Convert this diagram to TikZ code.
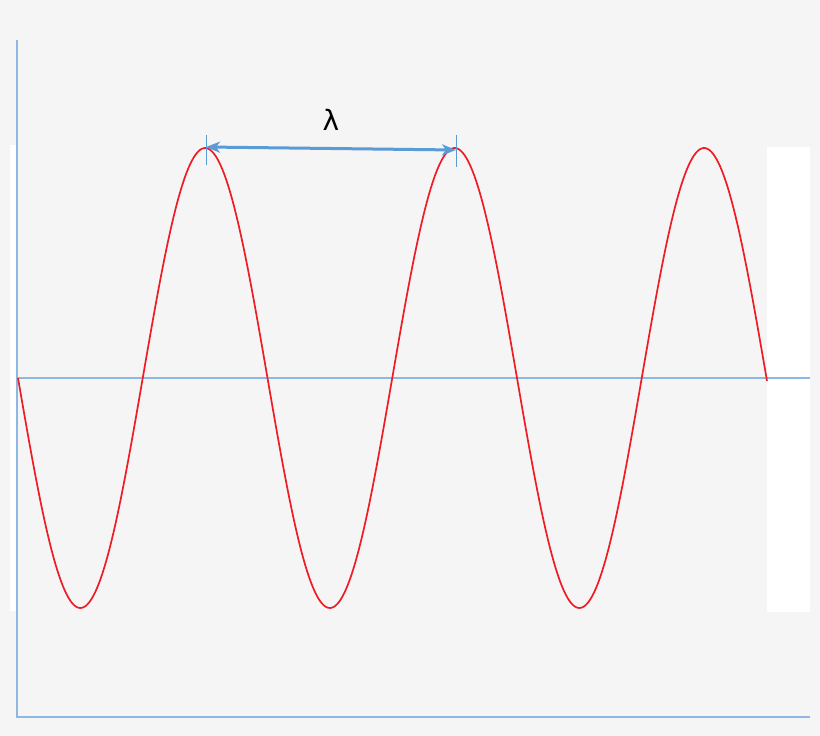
\documentclass[tikz,border=0pt]{standalone}
\usepackage{fontspec}
\newfontfamily\lamfont{DejaVu Sans}
\usetikzlibrary{arrows.meta}
\definecolor{axisblue}{HTML}{8DB8E2}
\definecolor{arrowblue}{HTML}{5B9BD5}
\definecolor{wavered}{HTML}{EE1C25}
\definecolor{bggray}{HTML}{F5F5F5}

\begin{document}
\begin{tikzpicture}[x=1pt,y=-1pt,
    axis/.style={draw=axisblue,line width=1.2pt},
    wave/.style={draw=wavered,line width=1.7pt},
    marker/.style={draw=arrowblue,line width=0.9pt},
    span/.style={draw=arrowblue,line width=3pt,
      {Stealth[length=14pt,width=11pt,inset=4pt]}-{Stealth[length=14pt,width=11pt,inset=4pt]}}]
    % background and white panels
    \fill[bggray] (0,0) rectangle (820,736);
    \fill[white] (10,145) rectangle (17,611);
    \fill[white] (767,147) rectangle (810,612);

    \coordinate (top) at (17,40);
    \coordinate (origin) at (17,717);
    \coordinate (right) at (810,717);
    \coordinate (mid) at (17,378);
    \coordinate (midend) at (810,378);
    \draw[axis] (top) -- (origin) -- (right);
    \draw[axis] (mid) -- (midend);

    % the wave (period 249.5)
    \draw[wave] plot[domain=18:767,samples=400] (\x,{378+230*sin((\x-18)*1.442886)});

    % wavelength marker
    \coordinate (peakA) at (206,147);
    \coordinate (peakB) at (456,150);
    \coordinate (tickAtop) at (206,135);
    \coordinate (tickAbot) at (206,165);
    \coordinate (tickBtop) at (456,135);
    \coordinate (tickBbot) at (456,167);
    \draw[marker] (tickAtop) -- (tickAbot);
    \draw[marker] (tickBtop) -- (tickBbot);
    \draw[span] (peakA) -- (peakB);
    \node (lambda) at (331,120) {\lamfont\fontsize{28}{32}\selectfont λ};
\end{tikzpicture}
\end{document}
